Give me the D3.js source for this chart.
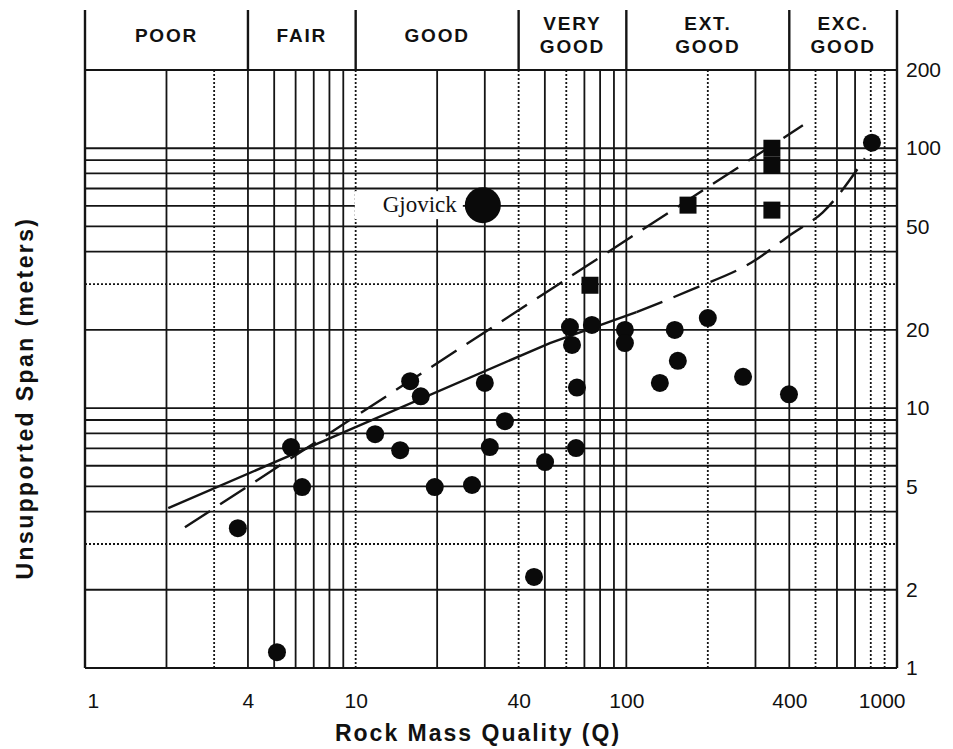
<!DOCTYPE html>
<html>
<head>
<meta charset="utf-8">
<script src="https://cdn.jsdelivr.net/npm/d3@7"></script>
<style>
  body { margin: 0; background: #fff; }
  svg { display: block; }
  text { font-family: "Liberation Sans", Arial, sans-serif; fill: #111; }
</style>
</head>
<body>
<svg id="chart" width="953" height="749"></svg>
<script>
// data
const xTicks = [1, 4, 10, 40, 100, 400, 1000]
const yTicks = [1, 2, 5, 10, 20, 50, 100, 200]
const classBounds = [1, 4, 10, 40, 100, 400, 1000]
const classNames = [["POOR"], ["FAIR"], ["GOOD"], ["VERY", "GOOD"], ["EXT.", "GOOD"], ["EXC.", "GOOD"]]

const vGridSolid = [2, 4, 5, 6, 7, 8, 9, 20, 30, 50, 70, 80, 90, 100, 300, 400, 600, 700]
const vGridDotted = [3, 10, 40, 60, 200, 500, 800, 900]
const hGridSolid = [2, 4, 5, 6, 7, 8, 9, 10, 20, 40, 50, 60, 70, 80, 90, 100]
const hGridDotted = [3, 30]

const caseQ = [3.67, 5.12, 5.77, 6.34, 11.8, 14.6, 15.9, 17.4, 19.6, 26.9, 30.0, 31.3, 35.6, 45.6, 50.1,
  61.9, 63.0, 74.6, 65.7, 65.2, 98.8, 98.8, 151, 155, 133, 200, 270, 399, 808]
const caseSpan = [3.45, 1.15, 7.08, 4.97, 7.94, 6.89, 12.7, 11.1, 4.97, 5.06, 12.5, 7.08, 8.91, 2.24, 6.2,
  20.5, 17.5, 20.9, 12.0, 7.02, 20.0, 17.8, 20.0, 15.2, 12.5, 22.2, 13.2, 11.3, 105]

const squareQ = [73.4, 169, 345, 345, 345]
const squareSpan = [29.7, 60.4, 100, 86, 57.8]

const gjovikQ = [29.5]
const gjovikSpan = [60.4]
const gjovikName = ["Gjovick"]

const solidQ = [2.03, 52.2, 109]
const solidSpan = [4.12, 17.8, 23.4]
const curveQ = [109, 176, 291, 412, 532, 761]
const curveSpan = [23.4, 28.7, 36.4, 47.1, 56.7, 91.5]
const steepQ = [2.34, 449]
const steepSpan = [3.48, 122.5]

const svg = d3.select('#chart')
const headerTop = 10

const x = d3.scaleLog().domain([1, 1000]).range([85, 897])
const y = d3.scaleLog().domain([1, 200]).range([668, 70])
const [plotLeft, plotRight] = x.range()
const [plotBottom, plotTop] = y.range()
const ink = '#141414'

// grid
const grid = svg.append('g')
grid.selectAll('.vs').data(vGridSolid).enter().append('line')
  .attr('x1', d => x(d)).attr('x2', d => x(d)).attr('y1', plotTop).attr('y2', plotBottom)
  .attr('stroke', ink).attr('stroke-width', 1.8)
grid.selectAll('.vd').data(vGridDotted).enter().append('line')
  .attr('x1', d => x(d)).attr('x2', d => x(d)).attr('y1', plotTop).attr('y2', plotBottom)
  .attr('stroke', ink).attr('stroke-width', 1.8).attr('stroke-dasharray', '2,2')
grid.selectAll('.hs').data(hGridSolid).enter().append('line')
  .attr('x1', plotLeft).attr('x2', plotRight).attr('y1', d => y(d)).attr('y2', d => y(d))
  .attr('stroke', ink).attr('stroke-width', 1.8)
grid.selectAll('.hd').data(hGridDotted).enter().append('line')
  .attr('x1', plotLeft).attr('x2', plotRight).attr('y1', d => y(d)).attr('y2', d => y(d))
  .attr('stroke', ink).attr('stroke-width', 1.8).attr('stroke-dasharray', '2,2')

// frame and header
svg.append('line').attr('x1', plotLeft).attr('x2', plotRight).attr('y1', plotTop).attr('y2', plotTop)
  .attr('stroke', ink).attr('stroke-width', 2.2)
svg.append('line').attr('x1', plotLeft).attr('x2', plotRight).attr('y1', plotBottom).attr('y2', plotBottom)
  .attr('stroke', ink).attr('stroke-width', 2.2)
svg.selectAll('.bound').data(classBounds).enter().append('line')
  .attr('x1', d => x(d)).attr('x2', d => x(d))
  .attr('y1', headerTop)
  .attr('y2', (d, i) => (i === 0 || i === classBounds.length - 1) ? plotBottom : plotTop)
  .attr('stroke', ink).attr('stroke-width', 2.4)

const heads = svg.selectAll('.head').data(classNames).enter().append('text')
  .attr('text-anchor', 'middle')
  .attr('font-size', 19).attr('font-weight', 'bold').attr('letter-spacing', 1.8)
  .attr('transform', (d, i) => {
    const cx = Math.sqrt(classBounds[i] * classBounds[i + 1])
    return `translate(${x(cx)}, ${d.length === 1 ? 42 : 30})`
  })
heads.selectAll('tspan').data(d => d).enter().append('tspan')
  .attr('x', 0).attr('dy', (d, i) => i === 0 ? 0 : 23)
  .text(d => d)

// lines
const line = d3.line().x(d => x(d[0])).y(d => y(d[1]))
svg.append('path').datum(d3.zip(solidQ, solidSpan)).attr('d', line)
  .attr('fill', 'none').attr('stroke', ink).attr('stroke-width', 2.4)
svg.append('path').datum(d3.zip(curveQ, curveSpan)).attr('d', line.curve(d3.curveMonotoneX))
  .attr('fill', 'none').attr('stroke', ink).attr('stroke-width', 2.4).attr('stroke-dasharray', '28,12')
svg.append('path').datum(d3.zip(steepQ, steepSpan)).attr('d', d3.line().x(d => x(d[0])).y(d => y(d[1])))
  .attr('fill', 'none').attr('stroke', ink).attr('stroke-width', 2.4).attr('stroke-dasharray', '30,12')

// cases
svg.selectAll('.case').data(d3.zip(caseQ, caseSpan)).enter().append('circle')
  .attr('cx', d => x(d[0])).attr('cy', d => y(d[1])).attr('r', 9).attr('fill', '#0a0a0a')
const sq = 17
svg.selectAll('.sq').data(d3.zip(squareQ, squareSpan)).enter().append('rect')
  .attr('x', d => x(d[0]) - sq / 2).attr('y', d => y(d[1]) - sq / 2)
  .attr('width', sq).attr('height', sq).attr('fill', '#0a0a0a')

// Gjovik
const gj = svg.selectAll('.gj').data(d3.zip(gjovikQ, gjovikSpan, gjovikName)).enter().append('g')
gj.append('rect')
  .attr('x', d => x(d[0]) - 128).attr('y', d => y(d[1]) - 14)
  .attr('width', 108).attr('height', 28).attr('fill', '#fff')
gj.append('text')
  .attr('x', d => x(d[0]) - 26).attr('y', d => y(d[1]) + 7)
  .attr('text-anchor', 'end').attr('font-size', 23)
  .style('font-family', '"Liberation Serif", "Times New Roman", serif')
  .text(d => d[2])
gj.append('circle')
  .attr('cx', d => x(d[0])).attr('cy', d => y(d[1])).attr('r', 18).attr('fill', '#0a0a0a')

// axes labels
const xAxis = svg.append('g').attr('transform', `translate(0, ${plotBottom + 22})`)
  .call(d3.axisBottom(x).tickValues(xTicks).tickFormat(d3.format('d')).tickSize(0))
xAxis.select('.domain').remove()
xAxis.selectAll('text').attr('font-size', 21).attr('font-family', '"Liberation Sans", Arial, sans-serif')
  .attr('fill', ink)
  .attr('text-anchor', (d, i) => i === 0 ? 'start' : (i === xTicks.length - 1 ? 'end' : 'middle'))
  .attr('dx', (d, i) => i === 0 ? 2 : (i === xTicks.length - 1 ? 8 : 0))

const yAxis = svg.append('g').attr('transform', `translate(${plotRight + 6}, 0)`)
  .call(d3.axisRight(y).tickValues(yTicks).tickFormat(d3.format('d')).tickSize(0))
yAxis.select('.domain').remove()
yAxis.selectAll('text').attr('font-size', 21).attr('font-family', '"Liberation Sans", Arial, sans-serif')
  .attr('fill', ink).attr('x', 3)

svg.append('text')
  .attr('x', 478).attr('y', 741)
  .attr('text-anchor', 'middle').attr('font-size', 23).attr('font-weight', 'bold')
  .attr('letter-spacing', 2)
  .text('Rock Mass Quality (Q)')
svg.append('text')
  .attr('transform', 'translate(33, 398) rotate(-90)')
  .attr('text-anchor', 'middle').attr('font-size', 23).attr('font-weight', 'bold')
  .attr('letter-spacing', 2.4)
  .text('Unsupported Span (meters)')
</script>
</body>
</html>
